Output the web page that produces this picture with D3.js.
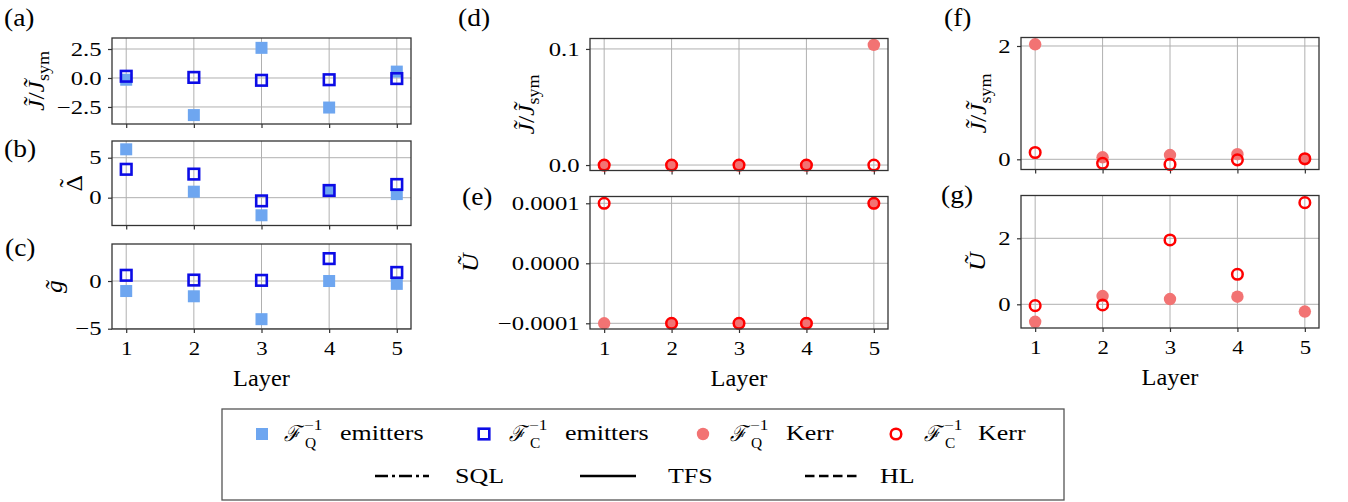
<!DOCTYPE html>
<html><head><meta charset="utf-8">
<script src="https://cdn.jsdelivr.net/npm/d3@7"></script>
<style>body{margin:0;background:#fff}svg{display:block}text{font-family:"Liberation Serif","Times New Roman","DejaVu Serif",serif;fill:#000}</style>
</head><body><svg id="c" width="1348" height="502"></svg>
<script>
// ---------- data ----------
const layers = [1, 2, 3, 4, 5];
const emitJQ = [-0.15, -3.2, 2.6, -2.55, 0.55];
const emitJC = [0.15, 0.05, -0.2, -0.15, -0.05];
const emitDQ = [6.05, 0.75, -2.2, 0.9, 0.45];
const emitDC = [3.55, 2.95, -0.4, 0.9, 1.65];
const emitGQ = [-1.05, -1.6, -4.0, 0.0, -0.3];
const emitGC = [0.6, 0.1, 0.07, 2.35, 0.9];
const kerr1JQ = [0, 0, 0, 0, 0.1035];
const kerr1JC = [0, 0, 0, 0, 0];
const kerr1UQ = [-1e-4, -1e-4, -1e-4, -1e-4, 1e-4];
const kerr1UC = [1e-4, -1e-4, -1e-4, -1e-4, 1e-4];
const kerr2JQ = [2.03, 0.035, 0.075, 0.09, 0.0];
const kerr2JC = [0.12, -0.07, -0.09, -0.01, 0.01];
const kerr2UQ = [-0.53, 0.25, 0.16, 0.23, -0.22];
const kerr2UC = [-0.04, -0.02, 1.95, 0.91, 3.08];
const xTicks = [1, 2, 3, 4, 5];
const ticksA = [-2.5, 0, 2.5], labelsA = ["\u22122.5", "0.0", "2.5"];
const ticksB = [0, 5], labelsB = ["0", "5"];
const ticksC = [-5, 0], labelsC = ["\u22125", "0"];
const ticksD = [0, 0.1], labelsD = ["0.0", "0.1"];
const ticksE = [-1e-4, 0, 1e-4], labelsE = ["\u22120.0001", "0.0000", "0.0001"];
const ticksF = [0, 2], labelsF = ["0", "2"];
const ticksG = [0, 2], labelsG = ["0", "2"];
const legendMarkers = ["emitQ", "emitC", "kerrQ", "kerrC"];
const legendSubs = ["Q", "C", "Q", "C"];
const legendWords = ["emitters", "emitters", "Kerr", "Kerr"];
const legendLines = ["SQL", "TFS", "HL"];

// ---------- styles ----------
const FONT = "Liberation Serif, Times New Roman, DejaVu Serif, serif";
const COL = {emitQ: "#6ea6f0", emitC: "#0c0ce6", kerrQ: "#f27373", kerrC: "#ff0000"};
const svg = d3.select("#c");
const xDomain = [0.79, 5.21];

function txt(parent, x, y, parts, o = {}) {
  const size = o.size || 20, sx = o.sx || 1, rot = o.rotate || 0;
  const g = parent.append("g").attr("transform", `translate(${x},${y}) rotate(${rot}) scale(${sx},1)`);
  const t = g.append("text").attr("font-size", size).attr("font-family", FONT).attr("text-anchor", o.anchor || "start");
  parts.forEach(p => {
    const s = t.append("tspan").text(p.t);
    if (p.i) s.attr("font-style", "italic");
    if (p.s) s.attr("font-size", size * p.s);
    if (p.dy != null) s.attr("dy", p.dy);
    if (p.dx != null) s.attr("dx", p.dx);
  });
  if (o.tilde) {
    g.append("text").attr("font-size", size).attr("font-family", FONT).attr("text-anchor", "middle")
      .attr("x", o.tilde[0]).attr("y", o.tilde[1]).text("\u02DC");
  }
  return t;
}

function marker(g, kind, cx, cy) {
  if (kind === "emitQ") g.append("rect").attr("x", cx - 6).attr("y", cy - 6).attr("width", 12).attr("height", 12).attr("fill", COL.emitQ);
  else if (kind === "emitC") g.append("rect").attr("x", cx - 5.3).attr("y", cy - 5.3).attr("width", 10.6).attr("height", 10.6).attr("fill", "none").attr("stroke", COL.emitC).attr("stroke-width", 2.6);
  else if (kind === "kerrQ") g.append("circle").attr("cx", cx).attr("cy", cy).attr("r", 6.2).attr("fill", COL.kerrQ);
  else g.append("circle").attr("cx", cx).attr("cy", cy).attr("r", 5.3).attr("fill", "none").attr("stroke", COL.kerrC).attr("stroke-width", 2.5);
}

function panel(o) {
  const g = svg.append("g");
  const x = d3.scaleLinear().domain(xDomain).range([o.l, o.r]);
  const y = d3.scaleLinear().domain(o.yDomain).range([o.b, o.t]);
  g.selectAll(".vg").data(xTicks).join("line")
    .attr("x1", d => x(d)).attr("x2", d => x(d)).attr("y1", o.t).attr("y2", o.b)
    .attr("stroke", "#b0b0b0").attr("stroke-width", 1);
  g.selectAll(".hg").data(o.yTicks).join("line")
    .attr("x1", o.l).attr("x2", o.r).attr("y1", d => y(d)).attr("y2", d => y(d))
    .attr("stroke", "#b0b0b0").attr("stroke-width", 1);
  const xa = g.append("g").attr("transform", `translate(0,${o.b})`)
    .call(d3.axisBottom(x).tickValues(xTicks).tickSize(4).tickPadding(9)
      .tickFormat(o.showX ? d3.format("d") : () => ""));
  const ya = g.append("g").attr("transform", `translate(${o.l},0)`)
    .call(d3.axisLeft(y).tickValues(o.yTicks).tickSize(4).tickPadding(4)
      .tickFormat((d, i) => o.yLabels[i]));
  [xa, ya].forEach(a => {
    a.select(".domain").remove();
    a.attr("font-family", FONT).attr("font-size", 19);
    a.selectAll("line").attr("stroke", "#333").attr("stroke-width", 1.2);
    a.selectAll("text").attr("fill", "#000").attr("font-family", FONT);
  });
  xa.selectAll("text").attr("transform", "scale(1.2,1)");
  ya.selectAll("text").attr("transform", "scale(1.3,1)");
  const marks = g.append("g");
  layers.forEach((l, i) => marker(marks, o.qKind, x(l), y(o.q[i])));
  layers.forEach((l, i) => marker(marks, o.cKind, x(l), y(o.c[i])));
  g.append("rect").attr("x", o.l).attr("y", o.t).attr("width", o.r - o.l).attr("height", o.b - o.t)
    .attr("fill", "none").attr("stroke", "#333").attr("stroke-width", 1.3);
  if (o.showX) txt(g, (o.l + o.r) / 2, o.b + 57, [{t: "Layer"}], {size: 23, sx: 1.06, anchor: "middle"});
  txt(g, o.lx, o.ly, [{t: o.label}], {size: 25, sx: 1.1});
  txt(g, o.yx, (o.t + o.b) / 2, o.ylab, {size: 23, sx: 1.12, anchor: "middle", rotate: -90, tilde: o.tilde});
}

const JLAB = [{t: "J\u0303", i: 1}, {t: "/"}, {t: "J\u0303", i: 1}, {t: "sym", s: 0.7, dy: "0.3em"}];
const L1 = 112, R1 = 411, L2 = 590, R2 = 888, L3 = 1021, R3 = 1319;

panel({l: L1, r: R1, t: 38, b: 124, yDomain: [-3.97, 3.45], yTicks: ticksA, yLabels: labelsA,
  q: emitJQ, c: emitJC, qKind: "emitQ", cKind: "emitC", showX: false,
  label: "(a)", lx: 4, ly: 26, ylab: JLAB, yx: 44});
panel({l: L1, r: R1, t: 141, b: 225.5, yDomain: [-3.48, 7.09], yTicks: ticksB, yLabels: labelsB,
  q: emitDQ, c: emitDC, qKind: "emitQ", cKind: "emitC", showX: false,
  label: "(b)", lx: 4, ly: 157, ylab: [{t: "\u0394"}], yx: 82, tilde: [0, -6]});
panel({l: L1, r: R1, t: 244, b: 329, yDomain: [-5.03, 3.88], yTicks: ticksC, yLabels: labelsC,
  q: emitGQ, c: emitGC, qKind: "emitQ", cKind: "emitC", showX: true,
  label: "(c)", lx: 5, ly: 256, ylab: [{t: "g\u0303", i: 1}], yx: 62});
panel({l: L2, r: R2, t: 38.5, b: 170.5, yDomain: [-0.0047, 0.109], yTicks: ticksD, yLabels: labelsD,
  q: kerr1JQ, c: kerr1JC, qKind: "kerrQ", cKind: "kerrC", showX: false,
  label: "(d)", lx: 458, ly: 26, ylab: JLAB, yx: 534});
panel({l: L2, r: R2, t: 196.5, b: 329, yDomain: [-1.095e-4, 1.113e-4], yTicks: ticksE, yLabels: labelsE,
  q: kerr1UQ, c: kerr1UC, qKind: "kerrQ", cKind: "kerrC", showX: true,
  label: "(e)", lx: 462, ly: 205, ylab: [{t: "U\u0303", i: 1}], yx: 478});
panel({l: L3, r: R3, t: 37.5, b: 169.5, yDomain: [-0.18, 2.15], yTicks: ticksF, yLabels: labelsF,
  q: kerr2JQ, c: kerr2JC, qKind: "kerrQ", cKind: "kerrC", showX: false,
  label: "(f)", lx: 944, ly: 26, ylab: JLAB, yx: 986});
panel({l: L3, r: R3, t: 195.5, b: 328, yDomain: [-0.718, 3.297], yTicks: ticksG, yLabels: labelsG,
  q: kerr2UQ, c: kerr2UC, qKind: "kerrQ", cKind: "kerrC", showX: true,
  label: "(g)", lx: 941, ly: 203, ylab: [{t: "U\u0303", i: 1}], yx: 985});

// ---------- legend ----------
const lg = svg.append("g");
lg.append("rect").attr("x", 222).attr("y", 409).attr("width", 842).attr("height", 91)
  .attr("fill", "#fff").attr("stroke", "#555").attr("stroke-width", 1.3);
const mX = [262, 484, 703, 896], fX = [284, 509, 730, 924], wX = [340, 565, 786, 978];
legendMarkers.forEach((k, i) => {
  marker(lg, k, mX[i], 434);
  txt(lg, fX[i], 441, [{t: "\u2131", i: 1}], {size: 22, sx: 0.9});
  txt(lg, fX[i] + 20, 430, [{t: "\u22121"}], {size: 15, sx: 1.15});
  txt(lg, fX[i] + 21, 448, [{t: legendSubs[i]}], {size: 14, sx: 1.1});
  txt(lg, wX[i], 440, [{t: legendWords[i]}], {size: 22, sx: 1.18});
});
const lineX = [[375, 429], [580, 636], [805, 858]], lineDash = ["13,4,3,4", null, "9.5,4.5"];
const lineTX = [455, 668, 880];
legendLines.forEach((n, i) => {
  const ln = lg.append("line").attr("x1", lineX[i][0]).attr("x2", lineX[i][1]).attr("y1", 476).attr("y2", 476)
    .attr("stroke", "#000").attr("stroke-width", 2.4);
  if (lineDash[i]) ln.attr("stroke-dasharray", lineDash[i]);
  txt(lg, lineTX[i], 483, [{t: n}], {size: 22, sx: 1.18});
});
</script></body></html>
